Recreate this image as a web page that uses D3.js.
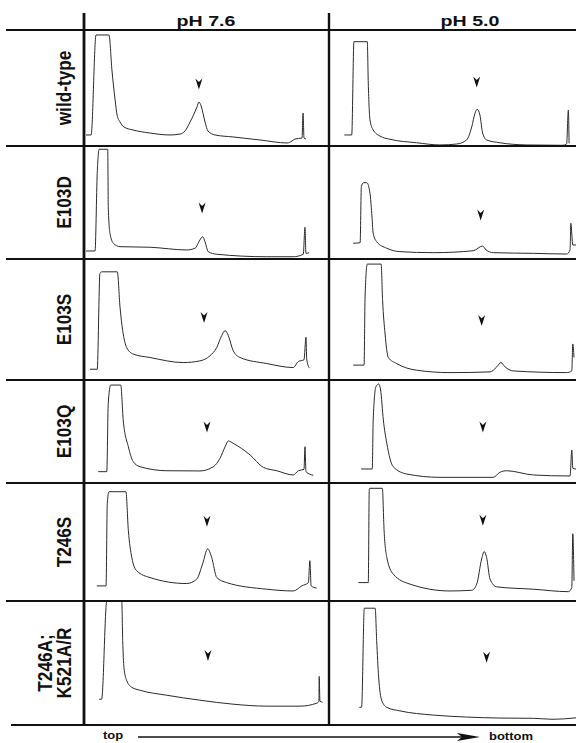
<!DOCTYPE html>
<html lang="en">
<head>
<meta charset="UTF-8">
<title>Gradient profiles</title>
<style>
  body { margin: 0; background: #fff; }
  text { font-family: 'Liberation Sans', Arial, sans-serif; font-weight: bold; fill: #111; }
  .grid { stroke: #111; }
  .trace { fill: none; stroke: #2a2a2a; stroke-width: 1; }
  .band { fill: #111; }
</style>
</head>
<body>
<svg width="576" height="743"></svg>
<script src="https://d3js.org/d3.v7.min.js"></script>
<script>

// column / row labels
var conditions = ["pH 7.6", "pH 5.0"];
var mutants = [["wild-type"], ["E103D"], ["E103S"], ["E103Q"], ["T246S"], ["T246A;", "K521A/R"]];

// traces: [gradient position %, A280 % of full scale], one per mutant
var traces76 = [
  [[0.8,9.5],[2.9,9.5],[4.9,95.7],[10.2,95.7],[11.4,65.5],[12.7,39.7],[13.5,26.7],[14.7,20.7],[16.3,16.4],[20.0,13.8],[26.9,11.2],[35.1,9.5],[39.2,10.3],[41.2,12.9],[43.3,20.7],[46.1,33.6],[46.9,37.9],[47.8,34.5],[49.4,20.7],[50.6,12.9],[53.5,9.5],[60.8,7.8],[71.8,5.2],[82.9,2.6],[84.9,4.3],[86.1,6.0],[89.0,6.9],[89.4,28.4],[89.8,6.9],[90.6,6.0]],
  [[0.8,7.1],[4.5,7.1],[5.4,75.8],[6.2,97.1],[9.7,97.1],[9.9,46.3],[10.6,22.7],[12.0,13.9],[14.7,10.9],[26.9,10.4],[41.9,8.0],[45.3,9.5],[47.3,16.8],[48.4,19.7],[49.4,15.3],[50.7,6.5],[54.2,4.2],[74.6,2.0],[85.4,2.0],[89.5,4.2],[90.2,28.1],[90.6,5.0],[91.9,5.6]],
  [[2.4,8.9],[5.4,8.9],[6.5,88.1],[7.2,89.4],[13.6,89.4],[14.7,60.3],[15.8,40.8],[17.4,26.9],[20.1,21.4],[26.9,18.6],[40.5,14.4],[47.3,15.8],[51.4,20.0],[54.2,26.9],[56.2,36.7],[57.6,40.8],[58.9,36.7],[60.9,24.2],[63.7,18.6],[74.6,13.6],[85.4,10.3],[87.5,15.3],[89.8,16.7],[90.6,35.3],[90.9,17.3],[92.0,9.8]],
  [[5.8,11.0],[9.3,11.0],[9.9,77.4],[10.9,95.1],[15.0,95.1],[16.0,61.2],[18.1,35.2],[20.1,20.7],[22.9,15.8],[33.8,11.9],[47.3,11.7],[52.8,15.8],[55.5,24.0],[57.6,35.2],[58.9,40.8],[60.9,38.5],[67.8,27.2],[73.2,15.2],[78.7,11.9],[85.4,7.8],[87.5,11.9],[89.8,13.3],[90.2,35.2],[90.6,11.0],[93.6,7.5]],
  [[5.2,12.8],[9.0,12.8],[9.5,82.6],[10.2,92.6],[17.1,92.6],[18.1,59.8],[19.5,37.0],[21.5,25.6],[26.9,19.9],[41.9,14.8],[46.0,18.5],[48.4,31.4],[50.5,44.2],[52.1,37.0],[54.2,19.9],[58.2,15.6],[74.6,10.0],[85.4,8.5],[88.9,12.8],[91.6,15.6],[92.2,34.2],[92.7,12.8],[95.0,10.9]],
  [[6.2,20.8],[7.2,20.8],[9.3,100],[15.4,100],[15.8,68.0],[16.3,46.4],[17.4,36.0],[19.5,30.4],[22.9,28.0],[33.8,24.0],[47.3,20.0],[60.8,16.8],[74.6,15.2],[88.2,15.2],[95.0,17.6],[95.9,19.2],[96.0,39.2],[96.3,19.2],[97.4,18.4]]
];

var traces50 = [
  [[6.2,9.5],[9.2,9.5],[10.1,89.9],[15.5,89.9],[15.9,54.3],[16.6,22.4],[17.9,13.8],[20.6,8.6],[24.7,5.8],[35.5,2.8],[44.9,0.9],[51.7,1.7],[55.7,5.2],[57.8,16.6],[59.1,28.2],[60.0,31.6],[61.1,26.7],[62.2,11.2],[63.8,5.2],[69.2,2.8],[80.0,0.9],[94.7,0.6],[96.2,1.7],[96.9,31.0],[97.2,2.3]],
  [[9.8,13.9],[12.6,14.4],[13.1,64.0],[13.9,67.5],[15.3,67.5],[16.6,58.1],[17.3,40.4],[17.9,22.7],[19.3,15.3],[23.4,9.5],[28.7,6.5],[42.2,5.6],[58.4,7.3],[62.2,11.5],[63.6,8.0],[66.5,5.6],[82.7,5.0],[96.2,4.4],[97.6,8.0],[97.9,31.6],[98.7,12.4],[100,12.4]],
  [[9.8,12.3],[14.2,12.3],[14.6,68.6],[15.5,95.8],[21.1,95.8],[21.7,65.8],[22.7,38.1],[24.0,18.6],[27.4,13.6],[35.5,8.1],[49.0,6.1],[65.2,6.7],[67.9,10.8],[69.6,14.4],[71.3,10.8],[74.6,7.5],[96.2,6.1],[98.3,7.5],[98.7,29.8],[99.2,18.6]],
  [[13.0,13.6],[17.5,13.6],[17.9,61.2],[19.0,93.5],[20.1,96.1],[20.9,90.3],[22.0,61.2],[23.4,38.5],[26.0,15.8],[31.5,8.7],[44.9,5.5],[66.5,5.5],[69.2,10.4],[71.9,11.9],[82.7,7.8],[97.6,6.8],[98.3,32.0],[98.7,14.3],[100,13.6]],
  [[11.9,15.6],[15.9,15.6],[16.3,94.0],[16.5,95.5],[21.6,95.5],[22.3,59.8],[23.4,37.0],[26.0,22.8],[32.8,14.3],[49.0,8.5],[57.8,9.1],[59.8,14.3],[61.8,35.6],[62.8,41.9],[63.8,37.0],[65.2,18.5],[67.9,12.0],[82.7,10.0],[96.9,7.9],[98.3,11.4],[98.7,57.0],[99.2,17.1]],
  [[12.3,14.2],[13.2,14.4],[14.3,94.2],[18.7,94.2],[19.3,68.0],[20.1,38.6],[21.3,20.0],[23.4,14.2],[28.7,11.4],[42.2,8.0],[55.7,6.4],[69.2,5.6],[82.7,5.4],[90.7,4.6],[100,5.8]]
];

// arrowhead marks (expected band): [gradient position %, height %]
var band76 = [[46.9,53.4],[48.2,45.1],[49.0,51.7],[50.2,54.4],[50.2,67.5],[50.6,56.0]];
var band50 = [[59.8,55.2],[61.4,38.9],[61.8,49.2],[62.3,54.4],[62.3,68.4],[63.8,54.6]];

// layout
var svg = d3.select("svg");
var colEdges = [84, 329, 576];
var rowTop = 30;
var rowHeights = [116, 113, 121, 103, 118, 124];
var rowEdges = [rowTop];
rowHeights.forEach(function(h, i) { rowEdges.push(rowEdges[i] + h); });
var gridBottom = rowEdges[rowEdges.length - 1];

var columns = [
    {label: conditions[0], traces: traces76, bands: band76, headerX: 206},
    {label: conditions[1], traces: traces50, bands: band50, headerX: 470}
];

var line = d3.line().curve(d3.curveMonotoneX);
var arrowHead = "M-3.5,-5.5L0,-2L3.5,-5.5L0,5.5Z";

var plots = svg.append("g");

columns.forEach(function(col, c) {
    var x = d3.scaleLinear().domain([0, 100]).range([colEdges[c], colEdges[c + 1]]);

    col.traces.forEach(function(trace, r) {
        var y = d3.scaleLinear().domain([0, 100]).range([rowEdges[r + 1], rowEdges[r]]);
        line.x(function(d) { return x(d[0]); }).y(function(d) { return y(d[1]); });

        plots.append("path")
            .attr("class", "trace")
            .attr("d", line(trace));

        var b = col.bands[r];
        plots.append("path")
            .attr("class", "band")
            .attr("d", arrowHead)
            .attr("transform", "translate(" + x(b[0]) + "," + y(b[1]) + ")");
    });

    // column header
    svg.append("g")
        .attr("transform", "translate(" + col.headerX + ",26) scale(1.4,1)")
        .append("text")
        .attr("text-anchor", "middle")
        .style("font-size", "14px")
        .text(col.label);
});

// grid lines
var grid = svg.append("g").attr("class", "grid");
rowEdges.forEach(function(yy, i) {
    grid.append("line")
        .attr("x1", i === rowEdges.length - 1 ? 11 : 6).attr("x2", 576)
        .attr("y1", yy).attr("y2", yy)
        .attr("stroke-width", 2.2);
});
colEdges.slice(0, 2).forEach(function(xx, i) {
    grid.append("line")
        .attr("x1", xx).attr("x2", xx)
        .attr("y1", 13).attr("y2", gridBottom)
        .attr("stroke-width", i === 0 ? 2.8 : 2.4);
});

// row labels, rotated
mutants.forEach(function(lines, r) {
    var cy = (rowEdges[r] + rowEdges[r + 1]) / 2;
    var g = svg.append("g")
        .attr("transform", "translate(71," + cy + ") rotate(-90) scale(0.82,1)");
    lines.forEach(function(t, k) {
        g.append("text")
            .attr("text-anchor", "middle")
            .attr("y", (k - (lines.length - 1)) * 19)
            .style("font-size", "21px")
            .text(t);
    });
});

// gradient direction
var foot = svg.append("g");
foot.append("g")
    .attr("transform", "translate(113,739) scale(1.3,1)")
    .append("text").attr("text-anchor", "middle").style("font-size", "10px").text("top");
foot.append("g")
    .attr("transform", "translate(511,740) scale(1.3,1)")
    .append("text").attr("text-anchor", "middle").style("font-size", "10px").text("bottom");
foot.append("line")
    .attr("x1", 138).attr("x2", 464)
    .attr("y1", 737).attr("y2", 737)
    .attr("stroke", "#111").attr("stroke-width", 1.4);
foot.append("path")
    .attr("d", "M480,737L457,733L462,737L457,741Z")
    .attr("fill", "#111");

</script>
</body>
</html>
